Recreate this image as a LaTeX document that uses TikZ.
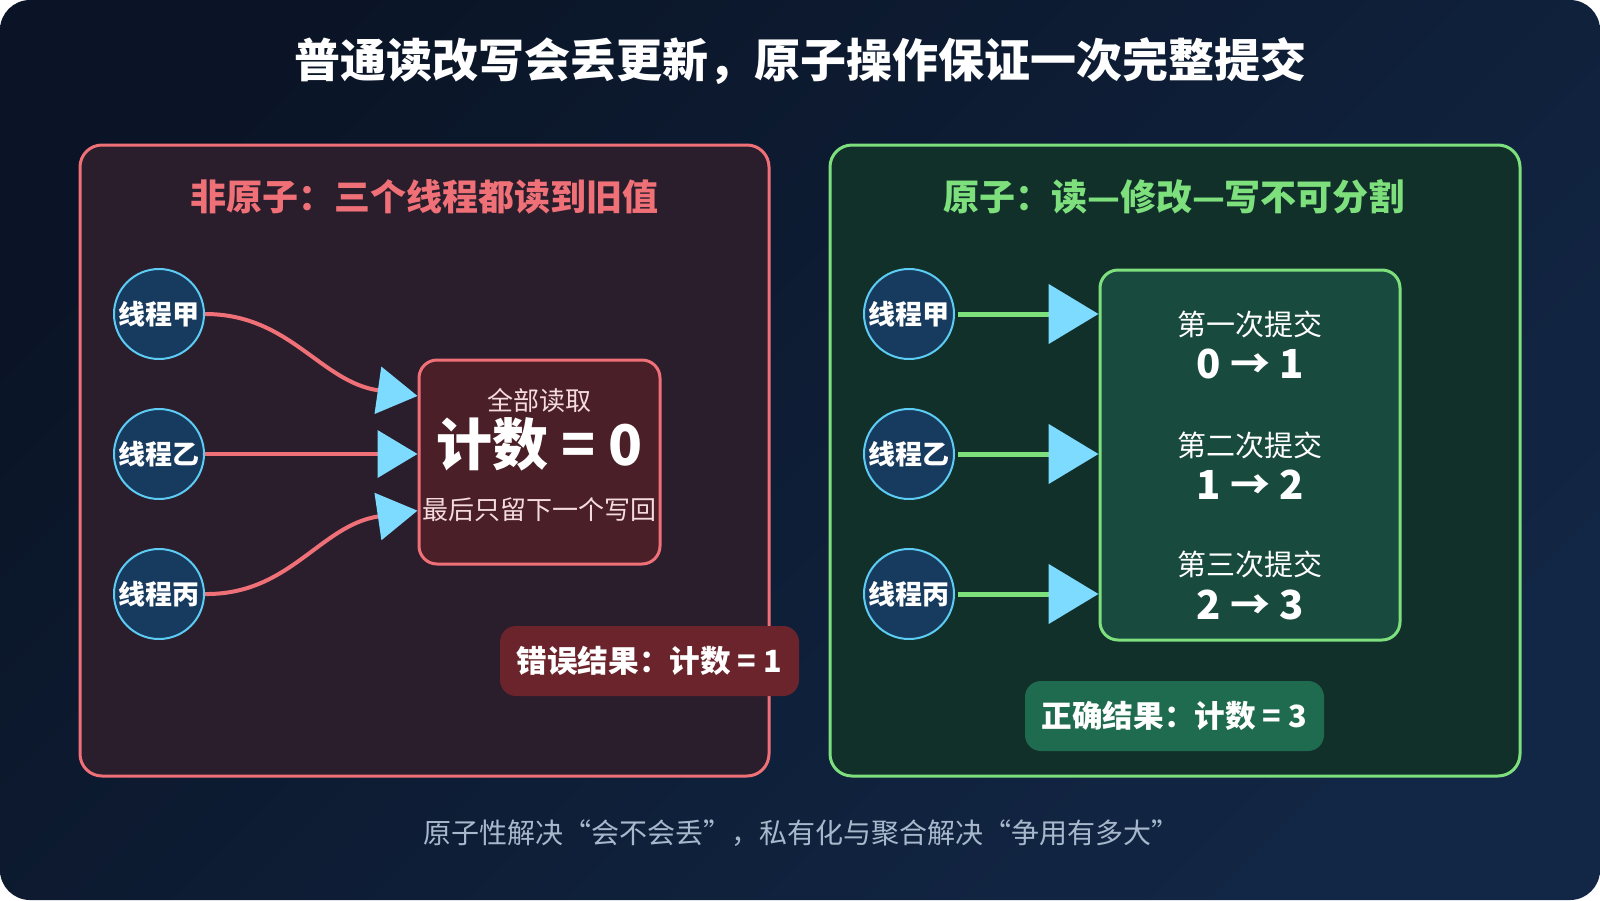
\documentclass[tikz,border=0pt]{standalone}
\usepackage{fontspec}
\setmainfont{Noto Sans CJK SC}
\usepackage{tikz}
\usetikzlibrary{positioning,arrows.meta,calc}
\definecolor{bgaclr}{rgb}{0.04, 0.08, 0.15}
\definecolor{bgbclr}{rgb}{0.07, 0.15, 0.27}
\definecolor{badclr}{rgb}{0.94, 0.44, 0.47}
\definecolor{badbgclr}{rgb}{0.165, 0.118, 0.173}
\definecolor{badboxclr}{rgb}{0.29, 0.12, 0.157}
\definecolor{badtagclr}{rgb}{0.42, 0.14, 0.17}
\definecolor{goodclr}{rgb}{0.49, 0.88, 0.49}
\definecolor{goodbgclr}{rgb}{0.07, 0.19, 0.165}
\definecolor{goodboxclr}{rgb}{0.094, 0.29, 0.24}
\definecolor{goodtagclr}{rgb}{0.12, 0.42, 0.31}
\definecolor{thrclr}{rgb}{0.09, 0.23, 0.37}
\definecolor{ringclr}{rgb}{0.36, 0.80, 0.96}
\definecolor{tipclr}{rgb}{0.49, 0.86, 1.0}
\definecolor{noteclr}{rgb}{0.66, 0.72, 0.80}
\definecolor{paleclr}{rgb}{0.96, 0.86, 0.87}
\tikzset{ %
  ,every node/.style={text=white}
  ,thread/.style={draw=ringclr, circle, fill=thrclr, line width=1pt, inner sep=0, minimum size=45pt, node distance=24pt, font=\bfseries\fontsize{13.5}{16}\selectfont}
  ,panel/.style={rounded corners=11pt, line width=1.5pt, inner sep=0}
  ,cellbox/.style={rounded corners=9pt, line width=1.5pt, inner sep=0}
  ,tag/.style={rounded corners=8pt, inner sep=0, minimum width=149.5pt, minimum height=35pt, font=\bfseries\fontsize{15.3}{18}\selectfont}
  ,head/.style={font=\bfseries\fontsize{18}{22}\selectfont}
  ,small/.style={font=\fontsize{13}{16}\selectfont, text=paleclr}
  ,commit/.style={font=\fontsize{14.5}{18}\selectfont}
  ,delta/.style={font=\bfseries\fontsize{20}{24}\selectfont}
  ,badline/.style={draw=badclr, line width=2pt, -{Triangle[length=20pt, width=23.5pt, color=tipclr]}}
  ,goodline/.style={draw=goodclr, line width=2.5pt, -{Triangle[length=25pt, width=29.5pt, color=tipclr]}}
}
\begin{document}
\begin{tikzpicture}[x=0.5pt, y=-0.5pt]
  \useasboundingbox (0,0) rectangle (1600,900);
  \shade[top color=bgaclr, bottom color=bgbclr, shading angle=45, rounded corners=15pt] (0,0) rectangle (1600,900);
  \node[font=\bfseries\fontsize{23}{28}\selectfont] (title) at (800,61) {普通读改写会丢更新，原子操作保证一次完整提交};

  % non-atomic
  \node[panel, draw=badclr, fill=badbgclr, minimum width=344.5pt, minimum height=315.5pt] (bad) at (424.5,460.5) {};
  \node[head, text=badclr] (badhead) at (424,197) {非原子：三个线程都读到旧值};
  \draw
  node[thread] (ta) at (159,314) {线程甲}
  node[thread, below=of ta] (tb) {线程乙}
  node[thread, below=of tb] (tc) {线程丙};
  \node[cellbox, draw=badclr, fill=badboxclr, minimum width=120.5pt, minimum height=102pt] (cnt) at (539.5,462) {};
  \node[small] (readall) at (539.5,401) {全部读取};
  \node[font=\bfseries\fontsize{28}{32}\selectfont] (zero) at (539.5,444) {计数 = 0};
  \node[small] (lastwins) at (539.5,510) {最后只留下一个写回};
  \draw[badline] (ta.east) .. controls (290,314) and (320,382) .. ($(cnt.north west)!0.181!(cnt.south west)$);
  \draw[badline] (tb.east) -- (tb.east -| cnt.west);
  \draw[badline] (tc.east) .. controls (290,595) and (320,525) .. ($(cnt.north west)!0.735!(cnt.south west)$);
  \node[tag, fill=badtagclr] (wrong) at (649.5,661) {错误结果：计数 = 1};

  % atomic
  \node[panel, draw=goodclr, fill=goodbgclr, minimum width=345pt, minimum height=315.5pt] (good) at (1175,460.5) {};
  \node[head, text=goodclr] (goodhead) at (1174,197) {原子：读—修改—写不可分割};
  \draw
  node[thread] (ra) at (909,314) {线程甲}
  node[thread, below=of ra] (rb) {线程乙}
  node[thread, below=of rb] (rc) {线程丙};
  \node[cellbox, draw=goodclr, fill=goodboxclr, minimum width=150pt, minimum height=185pt] (seq) at (1250,455) {};
  \node[commit] (c1) at (1250,324) {第一次提交};
  \node[delta] (s1) at (1250,364) {0 → 1};
  \node[commit] (c2) at (1250,445) {第二次提交};
  \node[delta] (s2) at (1250,485) {1 → 2};
  \node[commit] (c3) at (1250,564) {第三次提交};
  \node[delta] (s3) at (1250,605) {2 → 3};
  \foreach \t in {ra,rb,rc}
    \draw[goodline, shorten <=1.5pt] (\t.east) -- (\t.east -| seq.west);
  \node[tag, fill=goodtagclr] (right) at (1174.5,716) {正确结果：计数 = 3};

  \node[font=\fontsize{14}{17}\selectfont, text=noteclr] (note) at (801,833) {原子性解决“会不会丢”，私有化与聚合解决“争用有多大”};
\end{tikzpicture}
\end{document}
